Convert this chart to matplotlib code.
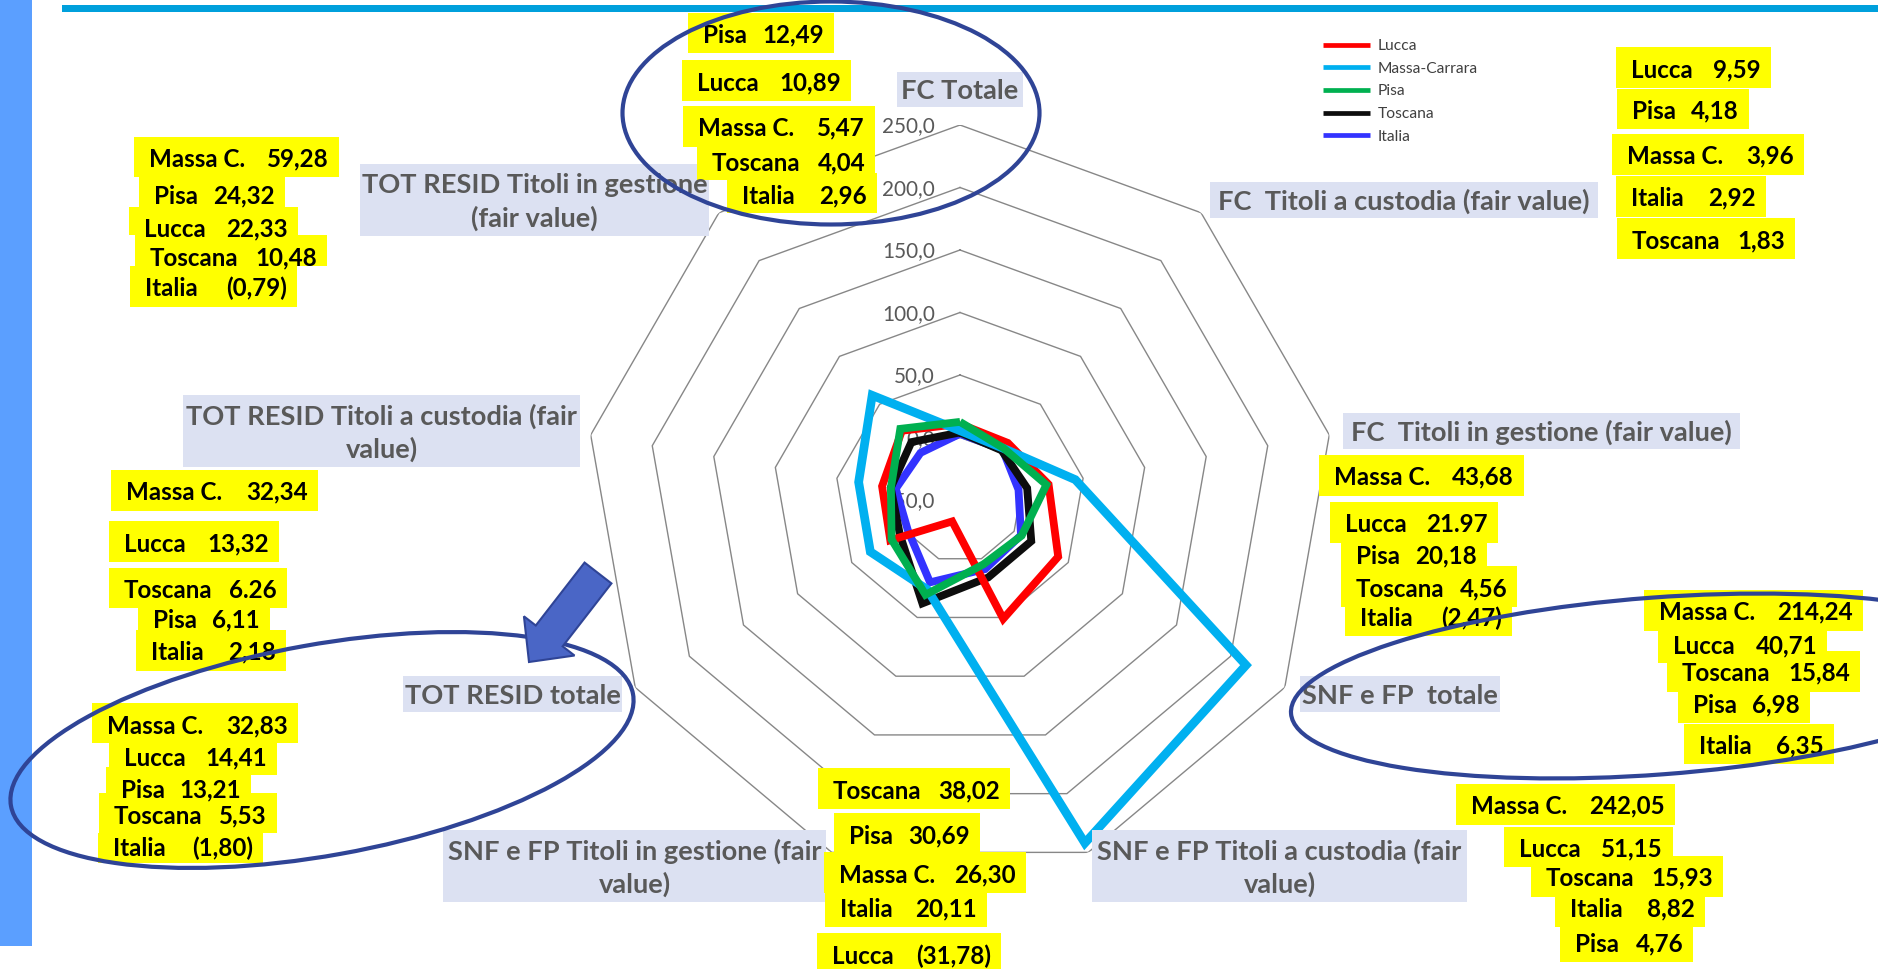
import numpy as np
import matplotlib
matplotlib.use("Agg")
import matplotlib.pyplot as plt
from matplotlib.patches import Rectangle, Ellipse, FancyArrow
from matplotlib.lines import Line2D

# ---------------- data ----------------
categories = [
    "FC Totale",
    "FC  Titoli a custodia (fair value)",
    "FC  Titoli in gestione (fair value)",
    "SNF e FP  totale",
    "SNF e FP Titoli a custodia (fair\nvalue)",
    "SNF e FP Titoli in gestione (fair\nvalue)",
    "TOT RESID totale",
    "TOT RESID Titoli a custodia (fair\nvalue)",
    "TOT RESID Titoli in gestione\n(fair value)",
]
series_names = ["Lucca", "Massa-Carrara", "Pisa", "Toscana", "Italia"]
short_names = ["Lucca", "Massa C.", "Pisa", "Toscana", "Italia"]
lucca = [10.89, 9.59, 21.97, 40.71, 51.15, -31.78, 14.41, 13.32, 22.33]
massa = [5.47, 3.96, 43.68, 214.24, 242.05, 26.30, 32.83, 32.34, 59.28]
pisa = [12.49, 4.18, 20.18, 6.98, 4.76, 30.69, 13.21, 6.11, 24.32]
toscana = [4.04, 1.83, 4.56, 15.84, 15.93, 38.02, 5.53, 6.26, 10.48]
italia = [2.96, 2.92, -2.47, 6.35, 8.82, 20.11, -1.80, 2.18, -0.79]
r_ticks = [-50, 0, 50, 100, 150, 200, 250]
dot_labels = {(2, 0), (7, 3)}   # (category, series) printed with a decimal point

series = [lucca, massa, pisa, toscana, italia]
colors = ["#FF0000", "#00B0F0", "#00B050", "#0D0D0D", "#3333FF"]
widths = [5.6, 6.3, 5.6, 5.6, 5.6]
zorders = [4, 5, 6, 3, 2]

# ---------------- layout (pixels) ----------------
W, H, DPI = 1878, 969, 100
CX, CY, R = 960, 500, 375
FONT = "Lato"

L_, M_, P_, T_, I_ = range(5)
label_layout = {
    0: [(P_, 688, 13, 834, 53, 34), (L_, 682, 60, 851, 101, 82), (M_, 683, 106, 875, 147, 127),
        (T_, 697, 147, 875, 180, 162), (I_, 727, 173, 877, 213, 195)],
    1: [(L_, 1616, 47, 1771, 88, 69), (P_, 1617, 89, 1749, 129, 110), (M_, 1612, 134, 1804, 175, 155),
        (I_, 1616, 176, 1766, 217, 197), (T_, 1617, 218, 1795, 259, 240)],
    2: [(M_, 1319, 455, 1524, 496, 476), (L_, 1330, 502, 1498, 543, 523), (P_, 1341, 543, 1487, 566, 555),
        (T_, 1341, 566, 1517, 607, 588), (I_, 1345, 607, 1512, 636, 617)],
    3: [(M_, 1644, 590, 1863, 631, 611), (L_, 1658, 631, 1827, 663, 645), (T_, 1667, 651, 1860, 692, 672),
        (P_, 1678, 692, 1810, 723, 704), (I_, 1684, 724, 1834, 764, 745)],
    4: [(M_, 1456, 784, 1675, 825, 805), (L_, 1504, 827, 1673, 867, 848), (T_, 1531, 856, 1723, 897, 877),
        (I_, 1555, 897, 1705, 927, 908), (P_, 1560, 927, 1693, 962, 943)],
    5: [(T_, 818, 768, 1010, 809, 790), (P_, 834, 813, 980, 852, 835), (M_, 824, 852, 1026, 893, 874),
        (I_, 825, 893, 987, 927, 908), (L_, 817, 933, 1001, 970, 955)],
    6: [(M_, 92, 703, 298, 743, 725), (L_, 109, 743, 277, 775, 757), (P_, 106, 767, 251, 800, 789),
        (T_, 99, 793, 277, 833, 815), (I_, 98, 833, 263, 863, 847)],
    7: [(M_, 111, 470, 318, 511, 491), (L_, 109, 521, 279, 562, 543), (T_, 109, 568, 287, 608, 589),
        (P_, 138, 608, 270, 630, 619), (I_, 136, 630, 286, 671, 651)],
    8: [(M_, 134, 137, 339, 177, 158), (P_, 139, 177, 285, 207, 195), (L_, 129, 207, 298, 235, 228),
        (T_, 135, 235, 327, 266, 257), (I_, 130, 266, 297, 307, 287)],
}
cat_boxes = [
    (897, 72, 1023, 107), (1210, 182, 1598, 218), (1343, 413, 1740, 449), (1300, 676, 1500, 712),
    (1092, 830, 1467, 902), (443, 830, 826, 902), (403, 676, 622, 712), (183, 395, 580, 467),
    (360, 164, 709, 236),
]


def fmt(v, dot=False):
    s = f"{abs(v):.2f}"
    if not dot:
        s = s.replace(".", ",")
    return f"({s})" if v < 0 else s


fig = plt.figure(figsize=(W / DPI, H / DPI), dpi=DPI)
fig.patch.set_facecolor("white")
renderer = fig.canvas.get_renderer()


def fit(text, target_px, weight="normal"):
    t = fig.text(0, 0, text, fontsize=20, fontweight=weight, family=FONT)
    w = t.get_window_extent(renderer).width
    t.remove()
    return 20 * target_px / w


fs_lab = fit("Massa C.", 96, "bold")
fs_cat = fit("FC  Titoli in gestione (fair value)", 382, "bold")
fs_tick = fit("250,0", 53)
fs_leg = fit("Massa-Carrara", 100)
CAP = 0.7165  # Lato cap height / em


def cap_px(fs_pt):
    return CAP * fs_pt * DPI / 72


# ---------------- radar ----------------
n = len(categories)
theta = np.linspace(0, 2 * np.pi, n, endpoint=False)
theta_c = np.append(theta, theta[0])

ax = fig.add_axes([(CX - R) / W, (H - CY - R) / H, 2 * R / W, 2 * R / H], projection="polar")
ax.set_theta_zero_location("N")
ax.set_theta_direction(-1)
ax.set_ylim(r_ticks[0], r_ticks[-1])
ax.grid(False)
ax.set_xticks([])
ax.set_yticks([])
ax.spines["polar"].set_visible(False)
ax.patch.set_alpha(0)

for lv in r_ticks[1:]:
    ax.plot(theta_c, [lv] * (n + 1), color="#878787", lw=1.0, zorder=1)
for lv in r_ticks:
    ax.annotate(f"{lv:.1f}".replace(".", ","), xy=(0, lv), xytext=(-25, -cap_px(fs_tick) / 2),
                textcoords="offset pixels", ha="right", va="baseline", fontsize=fs_tick,
                family=FONT, color="#595959", zorder=1.5)

handles = []
for vals, name, col, lw, zo in zip(series, series_names, colors, widths, zorders):
    ax.plot(theta_c, list(vals) + [vals[0]], color=col, lw=lw, zorder=zo,
            solid_joinstyle="miter", solid_capstyle="butt")
    handles.append(Line2D([], [], color=col, lw=3.4, solid_capstyle="butt"))

leg = ax.legend(handles, series_names, loc="upper left", bbox_to_anchor=(1323 / W, 1 - 39 / H),
                bbox_transform=fig.transFigure, frameon=False,
                handlelength=3.0, handletextpad=0.5, labelspacing=0.56,
                borderpad=0, borderaxespad=0, prop={"family": FONT, "size": fs_leg})
for t in leg.get_texts():
    t.set_color("#404040")

# ---------------- overlay annotations ----------------
ov = fig.add_axes([0, 0, 1, 1], zorder=10)
ov.set_xlim(0, W)
ov.set_ylim(H, 0)
ov.axis("off")
ov.patch.set_alpha(0)

ov.add_patch(Rectangle((0, 0), 32, 946, color="#5B9FFF", lw=0, zorder=1))
ov.add_patch(Rectangle((62, 5), W - 62, 7, color="#00A0DC", lw=0, zorder=1))

# category labels
for cat, (x0, y0, x1, y1) in zip(categories, cat_boxes):
    ov.add_patch(Rectangle((x0, y0), x1 - x0, y1 - y0, color="#DCE1F2", lw=0, zorder=2))
    lines = cat.split("\n")
    cy = (y0 + y1) / 2
    pitch = 33
    c = cap_px(fs_cat)
    for k, ln in enumerate(lines):
        yc = cy + (k - (len(lines) - 1) / 2) * pitch
        ov.text((x0 + x1) / 2, yc + c / 2, ln, ha="center", va="baseline", fontsize=fs_cat,
                fontweight="bold", family=FONT, color="#595959", zorder=3)

# yellow value labels: boxes first, then texts
for ci, items in label_layout.items():
    for (si, x0, y0, x1, y1, ty) in items:
        ov.add_patch(Rectangle((x0, y0), x1 - x0, y1 - y0, color="#FFFF00", lw=0, zorder=2))
c = cap_px(fs_lab)
for ci, items in label_layout.items():
    for (si, x0, y0, x1, y1, ty) in items:
        ov.text(x0 + 15, ty + c / 2, short_names[si], ha="left", va="baseline", fontsize=fs_lab,
                fontweight="bold", family=FONT, color="black", zorder=3)
        ov.text(x1 - 10, ty + c / 2, fmt(series[si][ci], (ci, si) in dot_labels), ha="right",
                va="baseline", fontsize=fs_lab, fontweight="bold", family=FONT, color="black", zorder=3)

# ellipses and arrow
ell_col = "#2F4496"
for (ex, ey, ew, eh, ea) in [(831, 113, 417, 223, 0), (322, 750, 632, 211, -10.2),
                             (1657, 686, 734, 177, -4.3)]:
    ov.add_patch(Ellipse((ex, ey), ew, eh, angle=ea, fill=False, ec=ell_col, lw=3.0, zorder=4))
ov.add_patch(FancyArrow(598, 573, 529 - 598, 662 - 573, width=34, head_width=64, head_length=33,
                        length_includes_head=True, fc="#4A66C6", ec=ell_col, lw=1.5, zorder=5))

fig.savefig("out.png", dpi=DPI)
